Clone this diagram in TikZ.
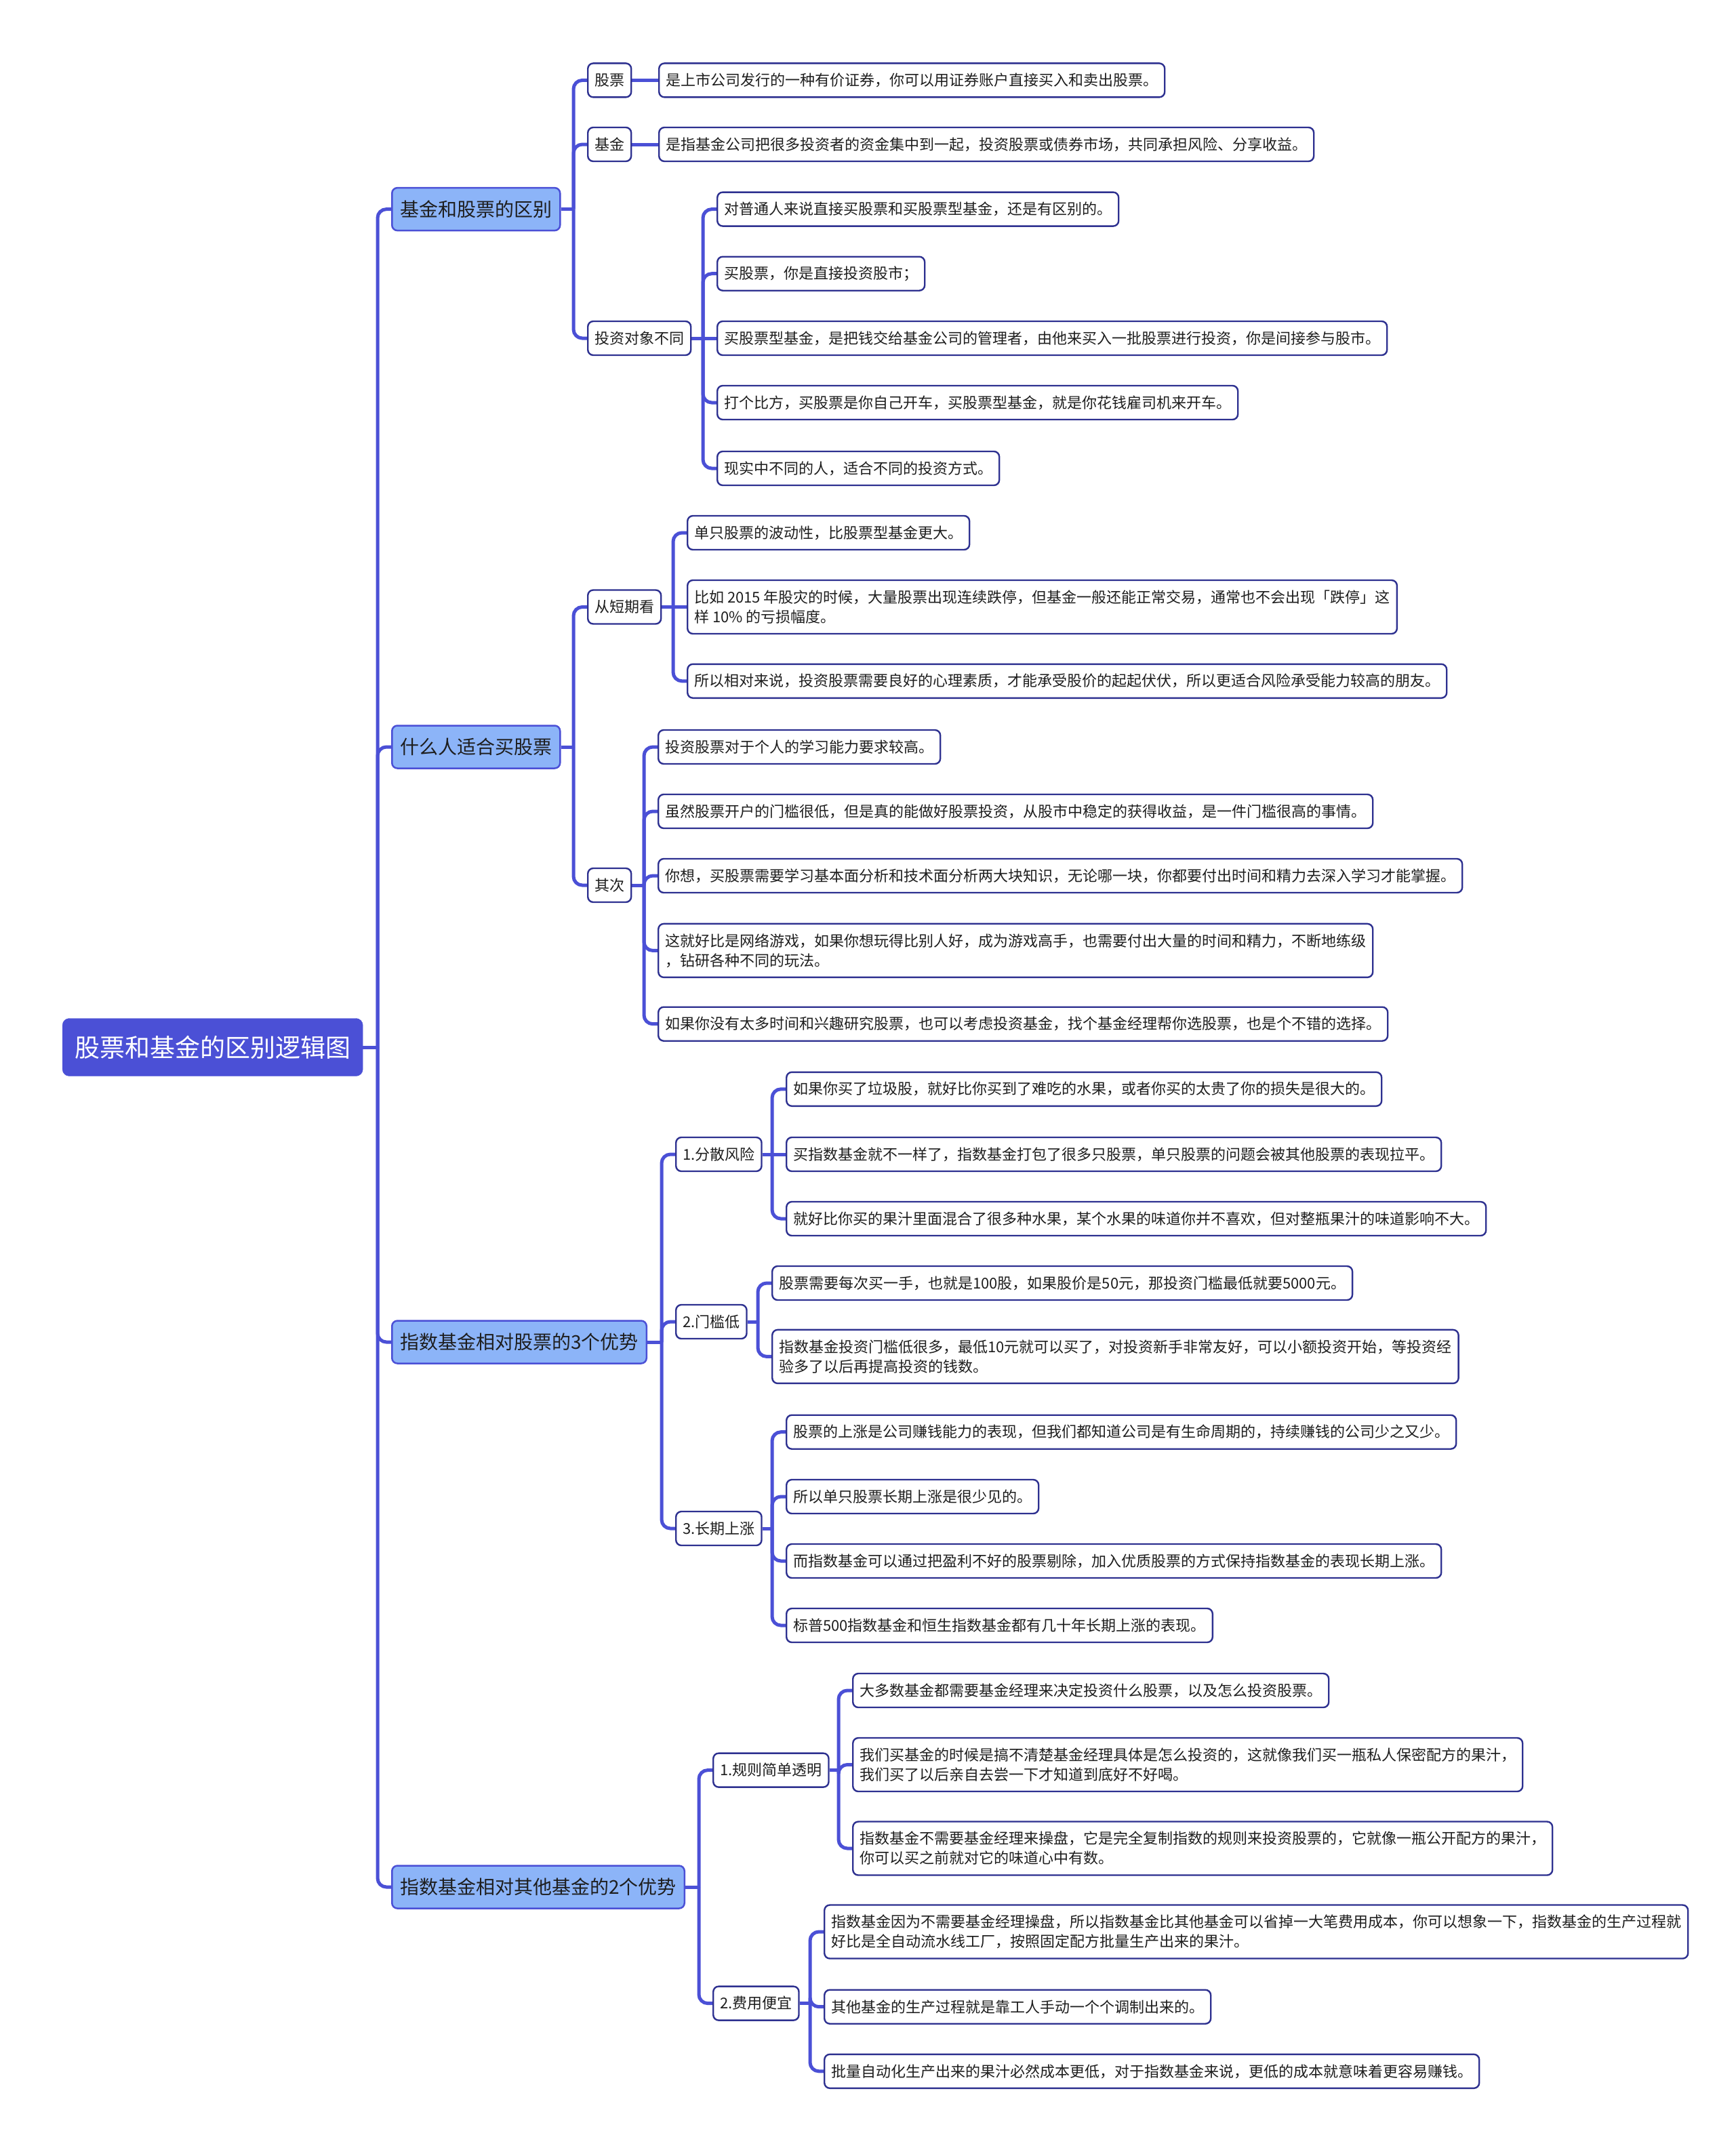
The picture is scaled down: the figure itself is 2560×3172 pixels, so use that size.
\documentclass[tikz,border=0pt]{standalone}
\usepackage{fontspec}
\setmainfont{Noto Sans CJK SC}
\usetikzlibrary{calc}
\definecolor{rootblue}{HTML}{4B50D6}
\definecolor{lightblue}{HTML}{8CB4F8}
\definecolor{navy}{HTML}{2E3190}
\definecolor{txt}{HTML}{1E1E1E}
\pgfdeclarelayer{bg}
\pgfsetlayers{bg,main}
\tikzset{
 base/.style={anchor=west, rounded corners=8pt, align=left, inner ysep=0pt},
 rootnode/.style={base, fill=rootblue, draw=rootblue, text=white, font=\fontsize{37}{44}\selectfont, inner xsep=18pt, minimum height=85pt, rounded corners=10pt},
 lone/.style={base, fill=lightblue, draw=rootblue, line width=2.5pt, text=txt, font=\fontsize{28}{34}\selectfont, inner xsep=12pt, minimum height=63pt},
 leaf/.style={base, fill=white, draw=navy, line width=2.4pt, text=txt, font=\fontsize{22}{29}\selectfont, inner xsep=10pt, minimum height=50pt},
 leaftwo/.style={leaf, minimum height=79pt},
 connline/.style={draw=rootblue, line width=5pt},
}
\newcommand\mmconn[2]{%
 \begin{pgfonlayer}{bg}
 \draw[connline] (#1.east) -- ($(#1.east -| #2.west)+(-20,0)$);
 \draw[connline, rounded corners=13pt] ($(#1.east -| #2.west)+(-20,0)$) |- (#2.west);
 \end{pgfonlayer}}
\newcommand\mmstraight[2]{%
 \begin{pgfonlayer}{bg}
 \draw[connline] (#1.east) -- (#2.west);
 \end{pgfonlayer}}
\begin{document}
\begin{tikzpicture}[x=1pt,y=-1pt]
\begin{pgfonlayer}{bg}
\fill[white] (0,0) rectangle (2560,3172);
\end{pgfonlayer}
\useasboundingbox (0,0) rectangle (2560,3172);

\node[rootnode] (root) at (92,1545) {股票和基金的区别逻辑图};

\node[lone] (A) at (577,308.6) {基金和股票的区别};
\node[lone] (B) at (577,1102) {什么人适合买股票};
\node[lone] (C) at (577,1980) {指数基金相对股票的3个优势};
\node[lone] (D) at (577,2784) {指数基金相对其他基金的2个优势};

% A
\node[leaf] (A1) at (866,118.4) {股票};
\node[leaf] (A2) at (866,213) {基金};
\node[leaf] (A3) at (866,499) {投资对象不同};
\node[leaf] (A1a) at (971,118.4) {是上市公司发行的一种有价证券，你可以用证券账户直接买入和卖出股票。};
\node[leaf] (A2a) at (971,213) {是指基金公司把很多投资者的资金集中到一起，投资股票或债券市场，共同承担风险、分享收益。};
\node[leaf] (A3a) at (1057,308.6) {对普通人来说直接买股票和买股票型基金，还是有区别的。};
\node[leaf] (A3b) at (1057,403.7) {买股票，你是直接投资股市；};
\node[leaf] (A3c) at (1057,499) {买股票型基金，是把钱交给基金公司的管理者，由他来买入一批股票进行投资，你是间接参与股市。};
\node[leaf] (A3d) at (1057,594) {打个比方，买股票是你自己开车，买股票型基金，就是你花钱雇司机来开车。};
\node[leaf] (A3e) at (1057,691) {现实中不同的人，适合不同的投资方式。};

% B
\node[leaf] (B1) at (866,895.5) {从短期看};
\node[leaf] (B2) at (866,1306) {其次};
\node[leaf] (B1a) at (1013,786) {单只股票的波动性，比股票型基金更大。};
\node[leaftwo] (B1b) at (1013,895.5) {比如 2015 年股灾的时候，大量股票出现连续跌停，但基金一般还能正常交易，通常也不会出现「跌停」这\\样 10\% 的亏损幅度。};
\node[leaf] (B1c) at (1013,1004.8) {所以相对来说，投资股票需要良好的心理素质，才能承受股价的起起伏伏，所以更适合风险承受能力较高的朋友。};
\node[leaf] (B2a) at (970,1102) {投资股票对于个人的学习能力要求较高。};
\node[leaf] (B2b) at (970,1197) {虽然股票开户的门槛很低，但是真的能做好股票投资，从股市中稳定的获得收益，是一件门槛很高的事情。};
\node[leaf] (B2c) at (970,1292) {你想，买股票需要学习基本面分析和技术面分析两大块知识，无论哪一块，你都要付出时间和精力去深入学习才能掌握。};
\node[leaftwo] (B2d) at (970,1402.4) {这就好比是网络游戏，如果你想玩得比别人好，成为游戏高手，也需要付出大量的时间和精力，不断地练级\\，钻研各种不同的玩法。};
\node[leaf] (B2e) at (970,1510.7) {如果你没有太多时间和兴趣研究股票，也可以考虑投资基金，找个基金经理帮你选股票，也是个不错的选择。};

% C
\node[leaf] (C1) at (996,1703) {1.分散风险};
\node[leaf] (C2) at (996,1950) {2.门槛低};
\node[leaf] (C3) at (996,2255) {3.长期上涨};
\node[leaf] (C1a) at (1159,1606.8) {如果你买了垃圾股，就好比你买到了难吃的水果，或者你买的太贵了你的损失是很大的。};
\node[leaf] (C1b) at (1159,1703) {买指数基金就不一样了，指数基金打包了很多只股票，单只股票的问题会被其他股票的表现拉平。};
\node[leaf] (C1c) at (1159,1798) {就好比你买的果汁里面混合了很多种水果，某个水果的味道你并不喜欢，但对整瓶果汁的味道影响不大。};
\node[leaf] (C2a) at (1138,1893) {股票需要每次买一手，也就是100股，如果股价是50元，那投资门槛最低就要5000元。};
\node[leaftwo] (C2b) at (1138,2001.4) {指数基金投资门槛低很多，最低10元就可以买了，对投资新手非常友好，可以小额投资开始，等投资经\\验多了以后再提高投资的钱数。};
\node[leaf] (C3a) at (1159,2112.7) {股票的上涨是公司赚钱能力的表现，但我们都知道公司是有生命周期的，持续赚钱的公司少之又少。};
\node[leaf] (C3b) at (1159,2208) {所以单只股票长期上涨是很少见的。};
\node[leaf] (C3c) at (1159,2303) {而指数基金可以通过把盈利不好的股票剔除，加入优质股票的方式保持指数基金的表现长期上涨。};
\node[leaf] (C3d) at (1159,2398) {标普500指数基金和恒生指数基金都有几十年长期上涨的表现。};

% D
\node[leaf] (D1) at (1051,2611.6) {1.规则简单透明};
\node[leaf] (D2) at (1051,2955.6) {2.费用便宜};
\node[leaf] (D1a) at (1257,2494) {大多数基金都需要基金经理来决定投资什么股票，以及怎么投资股票。};
\node[leaftwo] (D1b) at (1257,2603.5) {我们买基金的时候是搞不清楚基金经理具体是怎么投资的，这就像我们买一瓶私人保密配方的果汁，\\我们买了以后亲自去尝一下才知道到底好不好喝。};
\node[leaftwo] (D1c) at (1257,2727) {指数基金不需要基金经理来操盘，它是完全复制指数的规则来投资股票的，它就像一瓶公开配方的果汁，\\你可以买之前就对它的味道心中有数。};
\node[leaftwo] (D2a) at (1215,2850) {指数基金因为不需要基金经理操盘，所以指数基金比其他基金可以省掉一大笔费用成本，你可以想象一下，指数基金的生产过程就\\好比是全自动流水线工厂，按照固定配方批量生产出来的果汁。};
\node[leaf] (D2b) at (1215,2960.7) {其他基金的生产过程就是靠工人手动一个个调制出来的。};
\node[leaf] (D2c) at (1215,3055.8) {批量自动化生产出来的果汁必然成本更低，对于指数基金来说，更低的成本就意味着更容易赚钱。};

% connectors
\mmconn{root}{A}\mmconn{root}{B}\mmconn{root}{C}\mmconn{root}{D}
\mmconn{A}{A1}\mmconn{A}{A2}\mmconn{A}{A3}
\mmstraight{A1}{A1a}\mmstraight{A2}{A2a}
\mmconn{A3}{A3a}\mmconn{A3}{A3b}\mmstraight{A3}{A3c}\mmconn{A3}{A3d}\mmconn{A3}{A3e}
\mmconn{B}{B1}\mmconn{B}{B2}
\mmconn{B1}{B1a}\mmstraight{B1}{B1b}\mmconn{B1}{B1c}
\mmconn{B2}{B2a}\mmconn{B2}{B2b}\mmconn{B2}{B2c}\mmconn{B2}{B2d}\mmconn{B2}{B2e}
\mmconn{C}{C1}\mmconn{C}{C2}\mmconn{C}{C3}
\mmconn{C1}{C1a}\mmstraight{C1}{C1b}\mmconn{C1}{C1c}
\mmconn{C2}{C2a}\mmconn{C2}{C2b}
\mmconn{C3}{C3a}\mmconn{C3}{C3b}\mmconn{C3}{C3c}\mmconn{C3}{C3d}
\mmconn{D}{D1}\mmconn{D}{D2}
\mmconn{D1}{D1a}\mmconn{D1}{D1b}\mmconn{D1}{D1c}
\mmconn{D2}{D2a}\mmconn{D2}{D2b}\mmconn{D2}{D2c}
\end{tikzpicture}
\end{document}
